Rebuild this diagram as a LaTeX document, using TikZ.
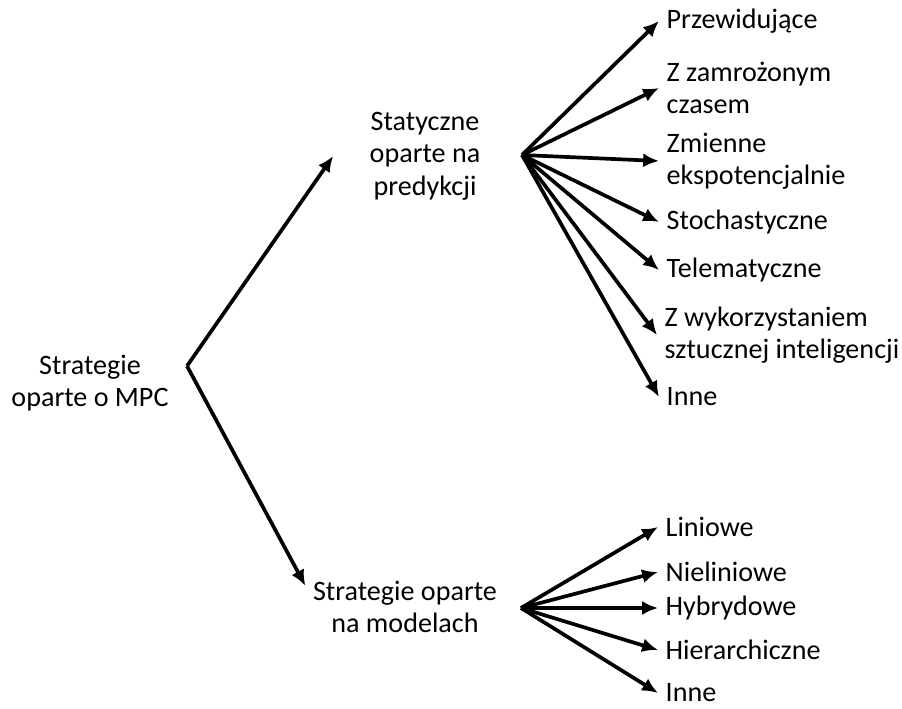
\documentclass[tikz,border=0pt]{standalone}
\usepackage{fontspec}
\setmainfont{Carlito}
\usetikzlibrary{arrows.meta}
\tikzset{
	textnode/.style = {
		align=center,
		font=\fontsize{16}{18.5}\selectfont
	},
	node_root/.style = {
		textnode
	},
	node_mid/.style = {
		textnode,
		minimum width=3.6cm
	},
	node_leaf/.style = {
		textnode,
		align=left,
		anchor=west
	},
}

\begin{document}
\begin{tikzpicture}[x=0.02cm,y=-0.02cm,->,>={Latex[length=9pt,width=8pt]},line width=2.1pt]
\useasboundingbox (0,0) rectangle (902,709);
% left side
\node [node_root] (mpc) at (90,383) {Strategie\\oparte o MPC};
\coordinate (fork) at (187,366);
\node [node_mid] (stat) at (425,156) {Statyczne\\oparte na\\predykcji};
\node [node_mid] (mod) at (405,607) {Strategie oparte\\na modelach};
\draw (fork) -- (stat.west);
\draw (fork) -- (mod.168);
% static strategies
\coordinate (sfan) at (522,155);
\node [node_leaf] (przew) at (659,21) {Przewidujące};
\node [node_leaf] (zamr) at (659,88) {Z zamrożonym\\czasem};
\node [node_leaf] (zmien) at (659,161) {Zmienne\\ekspotencjalnie};
\node [node_leaf] (stoch) at (659,222) {Stochastyczne};
\node [node_leaf] (telem) at (659,270) {Telematyczne};
\node [node_leaf] (sztin) at (657,335) {Z wykorzystaniem\\sztucznej inteligencji};
\node [node_leaf] (inne1) at (659,397) {Inne};
\foreach \n in {przew,zamr,zmien,stoch,telem,sztin,inne1}
	\draw (sfan) -- (\n.west);
% model strategies
\coordinate (mfan) at (521,608);
\node [node_leaf] (lin) at (658,527) {Liniowe};
\node [node_leaf] (nielin) at (658,572) {Nieliniowe};
\node [node_leaf] (hybr) at (658,608) {Hybrydowe};
\node [node_leaf] (hier) at (658,650) {Hierarchiczne};
\node [node_leaf] (inne2) at (658,693) {Inne};
\foreach \n in {lin,nielin,hybr,hier,inne2}
	\draw (mfan) -- (\n.west);
\end{tikzpicture}
\end{document}
